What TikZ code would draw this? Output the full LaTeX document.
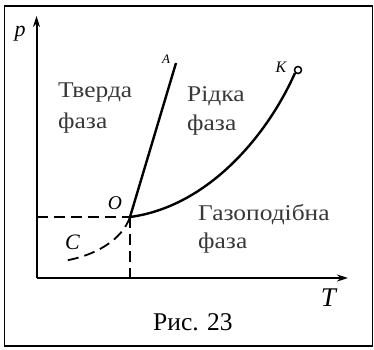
\documentclass[tikz,border=0pt]{standalone}
\usepackage{fontspec}
\setmainfont{Liberation Serif}
\newfontfamily\widefont{Liberation Serif}[FakeStretch=1.13]
\usetikzlibrary{arrows.meta}
\tikzset{
  phase/.style={anchor=base west, inner sep=0pt, text=black!78, font=\widefont\fontsize{22.5}{27}\selectfont},
  ital/.style={inner sep=0pt, anchor=center},
  axisline/.style={line width=2pt, -{Stealth[length=11pt,width=7pt]}},
  dashline/.style={line width=1.8pt, dash pattern=on 11pt off 6pt},
  curveline/.style={line width=2.4pt},
}
\begin{document}
\begin{tikzpicture}[x=1pt,y=-1pt]
\useasboundingbox (0,0) rectangle (374,349);
\draw[line width=1.5pt] (4.5,6) rectangle (372.5,346);
% coordinates
\coordinate (orig) at (36.5,278);
\coordinate (ptop) at (36.5,16);
\coordinate (tend) at (348,278);
\coordinate (O) at (130,217);
\coordinate (pO) at (36.5,217);
\coordinate (tO) at (130,278);
\coordinate (Aend) at (176,63);
\coordinate (Cend) at (63,261);
\node[circle, draw, line width=1.5pt, fill=white, minimum size=7pt, inner sep=0pt] (kc) at (298,70) {};
% axes
\draw[axisline] (orig) -- (ptop);
\draw[axisline] (orig) -- (tend);
% dashed guides
\draw[dashline] (pO) -- (O);
\draw[dashline] (O) -- (tO);
\draw[dashline] (O) .. controls (122,240) and (95,256) .. (Cend);
% curves
\draw[curveline] (O) -- (Aend);
\draw[curveline] (O) .. controls (205,207) and (265,140) .. (kc.225);
% labels
\node[ital, font=\fontsize{22}{26}\selectfont\itshape] (lp) at (20,34) {p};
\node[ital, font=\fontsize{27}{30}\selectfont\itshape] (lT) at (328.5,297.5) {T};
\node[ital, font=\fontsize{19.5}{22}\selectfont\itshape] (lO) at (115,203.5) {O};
\node[ital, font=\fontsize{13}{15}\selectfont\itshape] (lA) at (166,59) {A};
\node[ital, font=\fontsize{16}{18}\selectfont\itshape] (lK) at (281,67.5) {K};
\node[ital, font=\fontsize{22}{26}\selectfont\itshape] (lC) at (72.5,242.5) {C};
% phase texts
\node[phase] (tv1) at (58,97) {Тверда};
\node[phase] (tv2) at (58,128) {фаза};
\node[phase] (rd1) at (187,101.5) {Рідка};
\node[phase] (rd2) at (187,130) {фаза};
\node[phase] (gz1) at (198,220) {Газоподібна};
\node[phase] (gz2) at (198,248) {фаза};
% caption
\node[anchor=base west, inner sep=0pt, font=\fontsize{25.5}{30}\selectfont] (cap) at (153,330) {Рис. 23};
\end{tikzpicture}
\end{document}
